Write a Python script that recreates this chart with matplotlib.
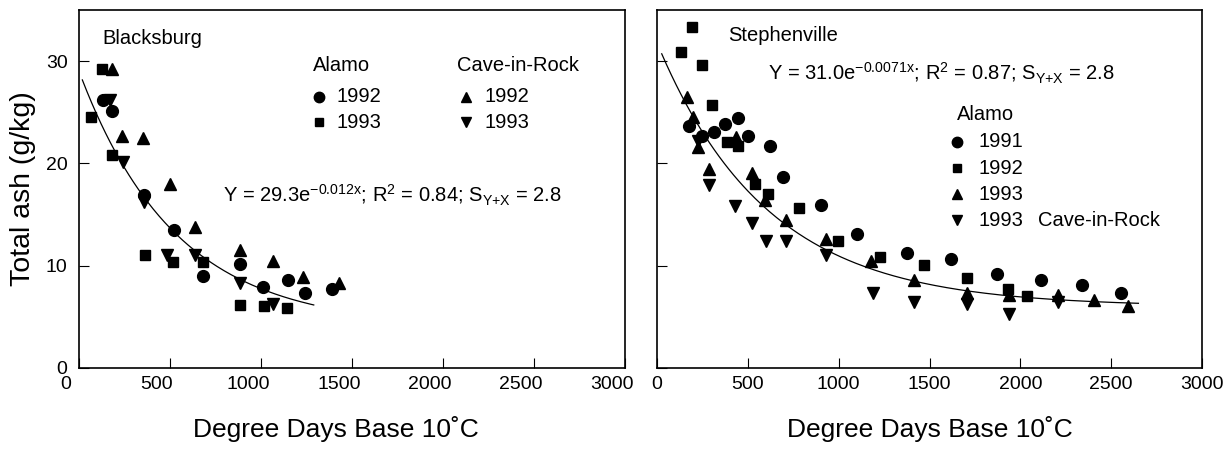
import matplotlib.pyplot as plt
import matplotlib.transforms as mtransforms
import numpy as np

plt.rcParams["font.family"] = ["Liberation Sans", "DejaVu Sans"]
plt.rcParams["mathtext.default"] = "regular"

# Blacksburg (left panel)
bb_alamo92_x = [135, 181, 358, 524, 680, 886, 1010, 1150, 1242, 1388]
bb_alamo92_y = [26.2, 25.1, 16.9, 13.5, 9.0, 10.2, 7.9, 8.6, 7.3, 7.7]
bb_alamo93_x = [66, 130, 181, 364, 519, 680, 886, 1017, 1141]
bb_alamo93_y = [24.5, 29.2, 20.8, 11.0, 10.4, 10.4, 6.2, 6.05, 5.9]
bb_cave92_x = [181, 236, 351, 501, 639, 886, 1068, 1233, 1430]
bb_cave92_y = [29.2, 22.7, 22.5, 18.0, 13.8, 11.5, 10.5, 8.9, 8.3]
bb_cave93_x = [172, 241, 358, 487, 639, 886, 1068]
bb_cave93_y = [26.2, 20.1, 16.2, 11.0, 11.0, 8.3, 6.3]

# Stephenville (right panel)
st_alamo91_x = [177, 245, 313, 377, 446, 501, 620, 693, 904, 1101, 1376,
                1620, 1874, 2113, 2338, 2555]
st_alamo91_y = [23.7, 22.7, 23.1, 23.9, 24.4, 22.7, 21.7, 18.7, 15.9, 13.1,
                11.2, 10.7, 9.2, 8.6, 8.1, 7.3]
st_alamo92_x = [130, 190, 249, 304, 388, 446, 540, 612, 781, 995, 1229,
                1467, 1709, 1931, 2036]
st_alamo92_y = [30.9, 33.3, 29.6, 25.7, 22.1, 21.7, 18.0, 17.0, 15.6, 12.4,
                10.9, 10.1, 8.8, 7.7, 7.0]
st_alamo93_x = [163, 199, 227, 287, 434, 523, 593, 712, 931, 1178, 1412,
                1709, 1940, 2210, 2403, 2592]
st_alamo93_y = [26.5, 24.5, 21.6, 19.5, 22.6, 19.1, 16.4, 14.5, 12.65, 10.5,
                8.65, 7.35, 7.1, 7.1, 6.6, 6.05]
st_cave93_x = [227, 287, 428, 523, 598, 708, 931, 1191, 1412, 1709, 1940,
               2210]
st_cave93_y = [22.2, 17.9, 15.8, 14.2, 12.4, 12.4, 11.0, 7.3, 6.5, 6.25, 5.3,
               6.5]

# fitted curves: y = c + a * exp(-k x), over the drawn x range
bb_fit = (25.1, 0.0019, 4.0)
bb_fit_range = (20, 1290)
st_fit = (25.8, 0.00165, 6.0)
st_fit_range = (26, 2650)

x_ticks = [0, 500, 1000, 1500, 2000, 2500, 3000]
y_ticks = [0, 10, 20, 30]

MS = {"o": 8.5, "s": 7.2, "^": 8.2, "v": 8.2}
LMS = {"o": 7.5, "s": 5.8, "^": 7.2, "v": 7.2}

fig = plt.figure(figsize=(12.29, 4.49), dpi=100)
ax1 = fig.add_axes([78.7 / 1229, 81 / 449, 546.6 / 1229, 358 / 449])
ax2 = fig.add_axes([657 / 1229, 81 / 449, 545 / 1229, 358 / 449])


def style(ax):
    ax.set_xlim(0, 3000)
    ax.set_ylim(0, 35)
    ax.set_xticks(x_ticks)
    ax.set_yticks(y_ticks)
    ax.tick_params(direction="in", length=7.2, width=0.8, labelsize=14,
                   pad=6)
    ax.tick_params(axis="y", pad=8)
    for s in ax.spines.values():
        s.set_linewidth(1.2)
    ax.set_xlabel("Degree Days Base 10\u02daC", fontsize=19, labelpad=12)


def fit_line(ax, fit, rng):
    a, k, c = fit
    xs = np.linspace(rng[0], rng[1], 200)
    ax.plot(xs, c + a * np.exp(-k * xs), color="black", lw=0.9)


def legend_row(ax, fx, fy, marker, label, tx):
    ax.plot([fx], [fy], marker=marker, ms=LMS[marker], color="black",
            ls="none", transform=ax.transAxes, clip_on=False)
    ax.text(tx, fy, label, transform=ax.transAxes, fontsize=14.5,
            va="center", ha="left")


# left panel
style(ax1)
fit_line(ax1, bb_fit, bb_fit_range)
ax1.plot(bb_cave93_x, bb_cave93_y, "v", ms=MS["v"], color="black")
ax1.plot(bb_cave92_x, bb_cave92_y, "^", ms=MS["^"], color="black")
ax1.plot(bb_alamo93_x, bb_alamo93_y, "s", ms=MS["s"], color="black")
ax1.plot(bb_alamo92_x, bb_alamo92_y, "o", ms=MS["o"], color="black")
ax1.set_ylabel("Total ash (g/kg)", fontsize=20.5, labelpad=7)
ax1.xaxis.set_label_coords(0.4707, -0.135)
offset = mtransforms.ScaledTranslation(-13 / 100, 0, fig.dpi_scale_trans)
for lbl in ax1.get_xticklabels():
    lbl.set_transform(lbl.get_transform() + offset)

ax1.text(0.0426, 0.919, "Blacksburg", transform=ax1.transAxes,
         fontsize=14.5, va="center")
ax1.text(0.4287, 0.846, "Alamo", transform=ax1.transAxes, fontsize=14.5,
         va="center")
legend_row(ax1, 0.4397, 0.757, "o", "1992", 0.472)
legend_row(ax1, 0.4397, 0.687, "s", "1993", 0.472)
ax1.text(0.6915, 0.846, "Cave-in-Rock", transform=ax1.transAxes,
         fontsize=14.5, va="center")
legend_row(ax1, 0.708, 0.757, "^", "1992", 0.743)
legend_row(ax1, 0.708, 0.687, "v", "1993", 0.743)
ax1.text(0.264, 0.482,
         "Y = 29.3e$^{-0.012x}$; R$^{2}$ = 0.84; S$_{Y{+}X}$ = 2.8",
         transform=ax1.transAxes, fontsize=14.5, va="center")

# right panel
style(ax2)
ax2.set_yticklabels([])
fit_line(ax2, st_fit, st_fit_range)
ax2.plot(st_cave93_x, st_cave93_y, "v", ms=MS["v"], color="black")
ax2.plot(st_alamo93_x, st_alamo93_y, "^", ms=MS["^"], color="black")
ax2.plot(st_alamo92_x, st_alamo92_y, "s", ms=MS["s"], color="black")
ax2.plot(st_alamo91_x, st_alamo91_y, "o", ms=MS["o"], color="black")
ax2.xaxis.set_label_coords(0.5, -0.135)

ax2.text(0.130, 0.930, "Stephenville", transform=ax2.transAxes,
         fontsize=14.5, va="center")
ax2.text(0.2037, 0.824,
         "Y = 31.0e$^{-0.0071x}$; R$^{2}$ = 0.87; S$_{Y{+}X}$ = 2.8",
         transform=ax2.transAxes, fontsize=14.5, va="center")
ax2.text(0.550, 0.707, "Alamo", transform=ax2.transAxes, fontsize=14.5,
         va="center")
legend_row(ax2, 0.550, 0.632, "o", "1991", 0.589)
legend_row(ax2, 0.550, 0.558, "s", "1992", 0.589)
legend_row(ax2, 0.550, 0.485, "^", "1993", 0.589)
legend_row(ax2, 0.550, 0.413, "v", "1993", 0.589)
ax2.text(0.699, 0.413, "Cave-in-Rock", transform=ax2.transAxes,
         fontsize=14.5, va="center")

fig.savefig("out.png", dpi=100)
